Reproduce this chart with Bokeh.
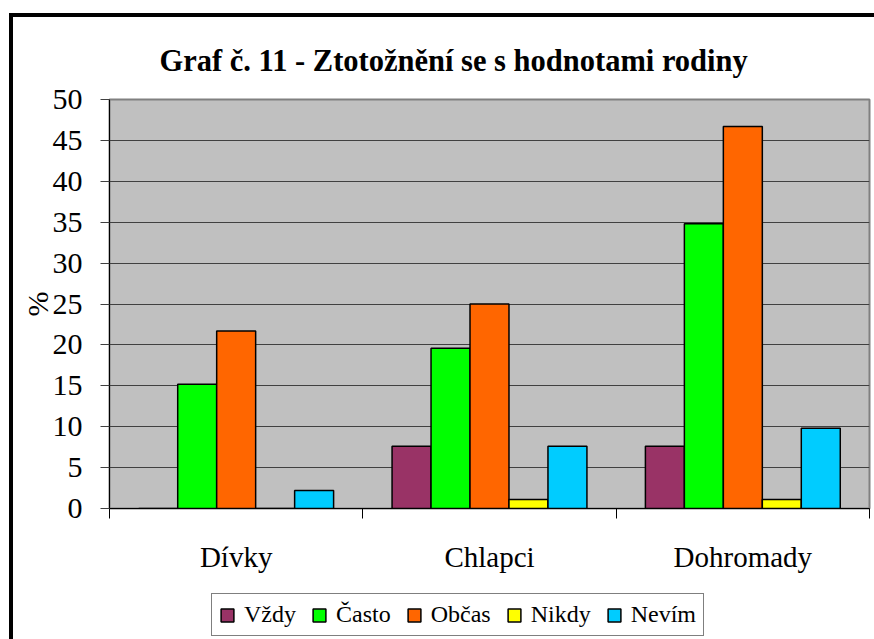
from bokeh.plotting import figure
from bokeh.layouts import column
from bokeh.models import Range1d, FixedTicker, Legend, LegendItem
from bokeh.embed import file_html
from bokeh.resources import INLINE

categories = ["Dívky", "Chlapci", "Dohromady"]
series_names = ["Vždy", "Často", "Občas", "Nikdy", "Nevím"]
vzdy = [0.0, 7.6, 7.6]
casto = [15.2, 19.6, 34.8]
obcas = [21.7, 25.0, 46.7]
nikdy = [0.0, 1.1, 1.1]
nevim = [2.2, 7.6, 9.8]
y_ticks = [0, 5, 10, 15, 20, 25, 30, 35, 40, 45, 50]

series_values = [vzdy, casto, obcas, nikdy, nevim]
colors = ["#993366", "#00FF00", "#FF6600", "#FFFF00", "#00CCFF"]

SERIF = "Liberation Serif"

W, H = 861, 574
ML, MR, MT, MB = 96, 5, 82, 83

fig = figure(width=W, height=H, output_backend="svg", toolbar_location=None,
             x_range=Range1d(0, len(categories)), y_range=Range1d(0, 50),
             min_border_left=ML, min_border_right=MR, min_border_top=MT, min_border_bottom=MB,
             title="Graf č. 11 - Ztotožnění se s hodnotami rodiny")

fig.background_fill_color = "#C0C0C0"
fig.border_fill_color = "white"
fig.outline_line_color = "#808080"
fig.outline_line_width = 2

fig.title.text_font = SERIF
fig.title.text_font_size = "30.5px"
fig.title.text_font_style = "bold"
fig.title.text_color = "black"
fig.title.align = "left"
fig.title.offset = 50
fig.title.standoff = 44

# bars
n = len(series_names)
bw = 1.0 / (n + 1.5)
for j, (name, vals, col) in enumerate(zip(series_names, series_values, colors)):
    xs = [i + 0.5 + (j - (n - 1) / 2) * bw for i in range(len(categories))]
    fig.vbar(x=xs, top=vals, bottom=0, width=bw, fill_color=col,
             line_color="black", line_width=1.5)

# grid
fig.xgrid.visible = False
fig.ygrid.ticker = FixedTicker(ticks=y_ticks)
fig.ygrid.grid_line_color = "#404040"
fig.ygrid.grid_line_width = 1.2

# y axis
fig.yaxis.ticker = FixedTicker(ticks=y_ticks)
fig.yaxis.major_label_text_font = SERIF
fig.yaxis.major_label_text_font_size = "30px"
fig.yaxis.major_label_text_color = "black"
fig.yaxis.major_tick_out = 9
fig.yaxis.major_tick_in = 0
fig.yaxis.major_tick_line_color = "#404040"
fig.yaxis.minor_tick_line_color = None
fig.yaxis.axis_line_color = "black"
fig.yaxis.major_label_standoff = 18
fig.yaxis.axis_label = "%"
fig.yaxis.axis_label_text_font = SERIF
fig.yaxis.axis_label_text_font_size = "30px"
fig.yaxis.axis_label_text_font_style = "normal"
fig.yaxis.axis_label_text_color = "black"
fig.yaxis.axis_label_standoff = -4

# x axis
centers = [i + 0.5 for i in range(len(categories))]
bounds = [float(i) for i in range(len(categories) + 1)]
fig.xaxis.ticker = FixedTicker(ticks=centers, minor_ticks=bounds)
fig.xaxis.major_label_overrides = {c: lab for c, lab in zip(centers, categories)}
fig.xaxis.major_label_text_font = SERIF
fig.xaxis.major_label_text_font_size = "29px"
fig.xaxis.major_label_text_color = "black"
fig.xaxis.major_tick_out = 0
fig.xaxis.major_tick_in = 0
fig.xaxis.minor_tick_out = 10
fig.xaxis.minor_tick_in = 0
fig.xaxis.minor_tick_line_color = "black"
fig.xaxis.axis_line_color = "black"
fig.xaxis.major_label_standoff = 22

# legend strip below the chart
LH = 48
lfig = figure(width=W, height=LH, output_backend="svg", toolbar_location=None,
              x_axis_type=None, y_axis_type=None,
              x_range=Range1d(0, 1), y_range=Range1d(0, 1),
              min_border_left=0, min_border_right=0, min_border_top=0, min_border_bottom=0)
lfig.xgrid.visible = False
lfig.ygrid.visible = False
lfig.outline_line_color = None
lfig.background_fill_color = "white"
lfig.border_fill_color = "white"
items = []
nan = float("nan")
for name, col in zip(series_names, colors):
    # legend-only renderer (no visible bar): carries the series' swatch style
    r = lfig.vbar(x=[nan], top=[nan], width=0.1, fill_color=col,
                  line_color="black", line_width=1.5)
    items.append(LegendItem(label=name, renderers=[r]))

legend = Legend(items=items, orientation="horizontal", location=(102, 3))
legend.label_text_font = SERIF
legend.label_text_font_size = "24px"
legend.label_text_color = "black"
legend.glyph_width = 16
legend.glyph_height = 16
legend.label_standoff = 9
legend.spacing = 15
legend.padding = 7
legend.margin = 0
legend.border_line_color = "black"
legend.border_line_width = 1
legend.background_fill_color = "white"
legend.background_fill_alpha = 1
lfig.add_layout(legend, "center")

p = column(fig, lfig, spacing=0)
# outer chart-area frame: only its left and top edges fall inside the window
p.styles = {"border-left": "4px solid black", "border-top": "4px solid black",
            "margin-left": "9px", "margin-top": "13px"}

open("out.html", "w").write(file_html(p, INLINE))
